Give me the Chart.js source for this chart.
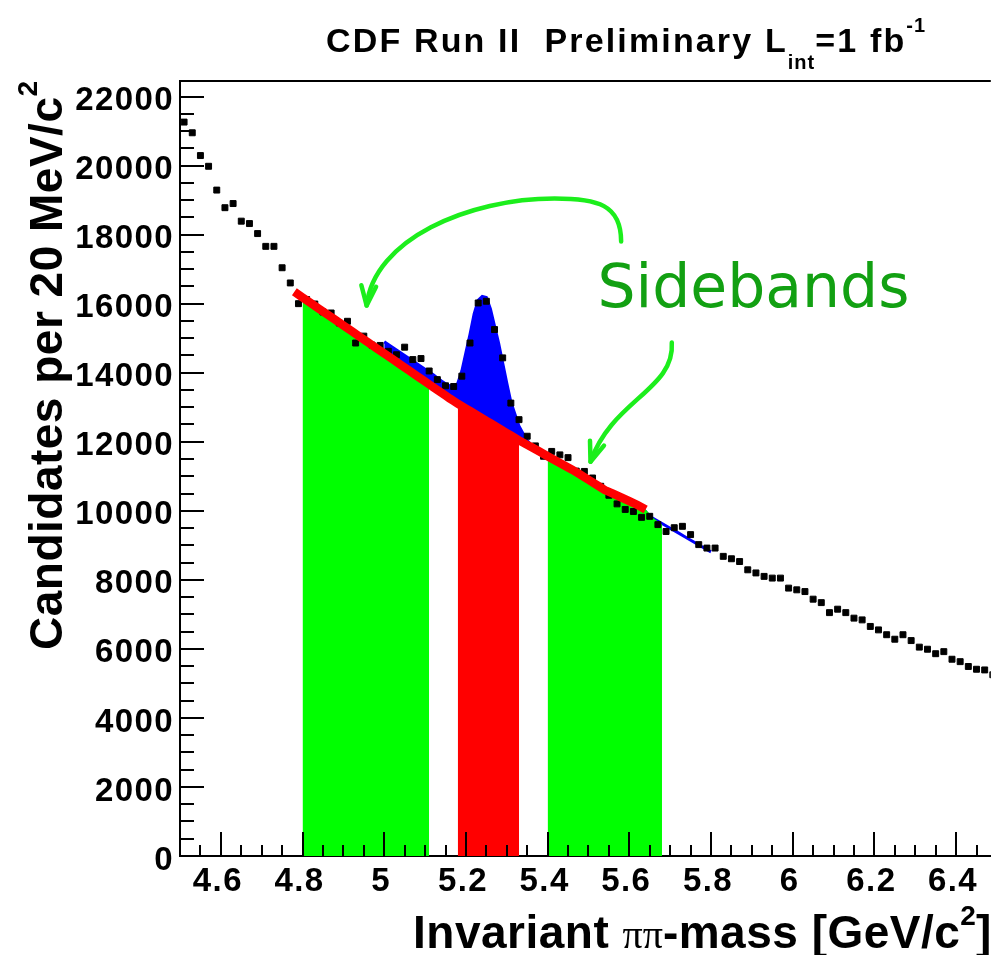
<!DOCTYPE html>
<html>
<head>
<meta charset="utf-8">
<script src="https://cdn.jsdelivr.net/npm/chart.js@4.4.1/dist/chart.umd.min.js"></script>
<style>
  html, body { margin: 0; padding: 0; background: #fff; }
  #wrap { width: 996px; height: 955px; position: relative; }
</style>
</head>
<body>
<div id="wrap"><canvas id="mass-canvas"></canvas></div>
<script>
// ===== CDF B -> h+h- : pipi invariant mass, 20 MeV bins =====

// bin centres [GeV/c^2] and candidates per bin
const binCenters = [
  4.51, 4.53, 4.55, 4.57, 4.59, 4.61, 4.63, 4.65, 4.67, 4.69,
  4.71, 4.73, 4.75, 4.77, 4.79, 4.81, 4.83, 4.85, 4.87, 4.89,
  4.91, 4.93, 4.95, 4.97, 4.99, 5.01, 5.03, 5.05, 5.07, 5.09,
  5.11, 5.13, 5.15, 5.17, 5.19, 5.21, 5.23, 5.25, 5.27, 5.29,
  5.31, 5.33, 5.35, 5.37, 5.39, 5.41, 5.43, 5.45, 5.47, 5.49,
  5.51, 5.53, 5.55, 5.57, 5.59, 5.61, 5.63, 5.65, 5.67, 5.69,
  5.71, 5.73, 5.75, 5.77, 5.79, 5.81, 5.83, 5.85, 5.87, 5.89,
  5.91, 5.93, 5.95, 5.97, 5.99, 6.01, 6.03, 6.05, 6.07, 6.09,
  6.11, 6.13, 6.15, 6.17, 6.19, 6.21, 6.23, 6.25, 6.27, 6.29,
  6.31, 6.33, 6.35, 6.37, 6.39, 6.41, 6.43, 6.45, 6.47, 6.49
];
const counts = [
  21260, 20950, 20290, 19980, 19290, 18780, 18900, 18390, 18320, 18030,
  17660, 17660, 17040, 16600, 16000, 16120, 15990, 15760, 15730, 15440,
  15490, 14860, 15060, 14800, 14790, 14620, 14520, 14740, 14380, 14410,
  14050, 13800, 13620, 13600, 13900, 14860, 16020, 16070, 15250, 14430,
  13120, 12640, 12160, 11880, 11580, 11720, 11620, 11540, 11150, 11140,
  10950, 10710, 10450, 10200, 10040, 9980, 9810, 9840, 9600, 9400,
  9510, 9550, 9310, 9020, 8920, 8920, 8680, 8610, 8530, 8290,
  8200, 8100, 8050, 8050, 7760, 7710, 7660, 7440, 7340, 7050,
  7150, 7050, 6890, 6840, 6650, 6550, 6410, 6280, 6410, 6240,
  6050, 5990, 5860, 5920, 5700, 5630, 5490, 5410, 5390, 5250
];

// fit curves, sampled at these masses
const fitX = [
  4.78, 4.80, 4.82, 4.84, 4.86, 4.88, 4.90, 4.92, 4.94, 4.96, 4.98, 5.00, 5.02, 5.04, 5.06, 5.08,
  5.10, 5.11, 5.12, 5.13, 5.14, 5.15, 5.16, 5.17, 5.18, 5.19, 5.20, 5.21, 5.22, 5.23, 5.24,
  5.25, 5.26, 5.27, 5.28, 5.29, 5.30, 5.31, 5.32, 5.33, 5.34, 5.35, 5.36,
  5.38, 5.40, 5.42, 5.44, 5.46, 5.48, 5.50, 5.52, 5.54, 5.56, 5.58, 5.60,
  5.62, 5.64, 5.66, 5.68, 5.70, 5.72, 5.74, 5.76, 5.78, 5.80
];
// background part of the fit
const bkgFit = [
  16343, 16181, 16018, 15856, 15693, 15531, 15369, 15206, 15044, 14881, 14719, 14556, 14394, 14231, 14069, 13906,
  13744, 13662, 13581, 13500, 13419, 13338, 13256, 13180, 13100, 13030, 12960, 12890, 12820, 12750, 12680,
  12605, 12535, 12465, 12395, 12320, 12250, 12180, 12110, 12040, 11975, 11910, 11845,
  11715, 11580, 11450, 11320, 11190, 11050, 10900, 10750, 10600, 10500, 10390, 10280,
  10170, 10040, 9780, 9600, 9495, 9360, 9220, 9080, 8945, 8810
];
// full fit (signal + background), fitted from 5.00 on
const fitStart = 5.00;
const totalFit = [
  14900, 14740, 14580, 14420, 14260,
  14100, 14020, 13940, 13850, 13760, 13680, 13620, 13600, 13690, 14050, 14580, 15110, 15700, 16100, 16210,
  16180, 15850, 15350, 14860, 14280, 13700, 13150, 12800, 12450, 12230, 12040, 11900,
  11730, 11580, 11450, 11320, 11190, 11050, 10900, 10750, 10600, 10500, 10390, 10280,
  10150, 9900, 9770, 9630, 9495, 9360, 9220, 9080, 8945, 8810
];

// mass windows
const sideLeft  = [4.80, 5.11];
const sigWindow = [5.18, 5.33];
const sideRight = [5.40, 5.68];
const bkgLineRange = [4.78, 5.64];

// axis ranges / ticks
const xRange = [4.5, 6.485];
const yRange = [0, 22450];
const xMinorStep = 0.05, xMajorStep = 0.2;
const yMinorStep = 500,  yMajorStep = 2000;

// annotation (data units): label + two curved arrows (cubic bezier pieces)
const noteText = 'Sidebands';
const notePos = [5.522, 15890];
const arrowUpper = [[5.580, 17800], [5.580, 18873], [5.522, 19046], [5.417, 19046],
                    [5.206, 19046], [4.974, 17858], [4.957, 15945]];
const arrowLower = [[5.704, 14872], [5.712, 13509], [5.558, 13219], [5.505, 11422]];

const GREEN = '#00ff00', RED = '#ff0000', BLUE = '#0000ff';
const ARROW_GREEN = '#1cee1c', TEXT_GREEN = '#12a012';
const FONT = '"Liberation Sans", Arial, sans-serif';

function _pts(xs, ys) { return xs.map((x, i) => ({ x, y: ys[i] })); }
function _within(r) { return p => p.x >= r[0] - 1e-9 && p.x <= r[1] + 1e-9; }
function _isMult(v, step) { const q = v / step; return Math.abs(q - Math.round(q)) < 1e-6; }

const bkgPts = _pts(fitX, bkgFit);
const totX = fitX.filter(x => x >= fitStart - 1e-9);

// ROOT style ticks inside the frame + top frame line
const frameTicks = {
  id: 'frameTicks',
  afterDatasetsDraw(chart) {
    const { ctx, chartArea: a, scales: { x, y } } = chart;
    ctx.save();
    ctx.strokeStyle = '#000';
    ctx.lineWidth = 2;
    ctx.beginPath();
    x.ticks.forEach(t => {
      if (t.value < x.min - 1e-9 || t.value > x.max + 1e-9 || !_isMult(t.value, xMinorStep)) return;
      const px = Math.round(x.getPixelForValue(t.value));
      const len = _isMult(t.value, xMajorStep) ? 24 : 11;
      ctx.moveTo(px, a.bottom); ctx.lineTo(px, a.bottom - len);
    });
    y.ticks.forEach(t => {
      if (t.value < y.min || t.value > y.max || !_isMult(t.value, yMinorStep)) return;
      const py = Math.round(y.getPixelForValue(t.value));
      const len = _isMult(t.value, yMajorStep) ? 24 : 14;
      ctx.moveTo(a.left, py); ctx.lineTo(a.left + len, py);
    });
    ctx.moveTo(a.left, a.top); ctx.lineTo(a.right, a.top);
    ctx.stroke();
    ctx.restore();
  }
};

// wider tick lettering, like the ROOT bitmap fonts
const tickSpacing = {
  id: 'tickSpacing',
  beforeDraw(chart) { chart.ctx.letterSpacing = '1.4px'; },
  afterDraw(chart) { chart.ctx.letterSpacing = '0px'; }
};

function drawRich(ctx, segs, x0, y0, angle) {
  ctx.save();
  ctx.translate(x0, y0);
  ctx.rotate(angle || 0);
  ctx.textAlign = 'left';
  ctx.textBaseline = 'alphabetic';
  let cx = 0;
  segs.forEach(s => {
    ctx.font = s.font;
    ctx.letterSpacing = (s.ls || 0) + 'px';
    ctx.fillStyle = s.color || '#000';
    ctx.fillText(s.text, cx, s.dy || 0);
    cx += ctx.measureText(s.text).width;
  });
  ctx.restore();
}

function drawArrow(ctx, x, y, pts) {
  const P = pts.map(p => [x.getPixelForValue(p[0]), y.getPixelForValue(p[1])]);
  ctx.beginPath();
  ctx.moveTo(P[0][0], P[0][1]);
  for (let i = 1; i + 2 < P.length; i += 3) {
    ctx.bezierCurveTo(P[i][0], P[i][1], P[i + 1][0], P[i + 1][1], P[i + 2][0], P[i + 2][1]);
  }
  ctx.stroke();
  const tip = P[P.length - 1], prev = P[P.length - 2];
  const ang = Math.atan2(tip[1] - prev[1], tip[0] - prev[0]);
  const L = 21, phi = 0.36;
  ctx.beginPath();
  ctx.moveTo(tip[0] - L * Math.cos(ang - phi), tip[1] - L * Math.sin(ang - phi));
  ctx.lineTo(tip[0], tip[1]);
  ctx.lineTo(tip[0] - L * Math.cos(ang + phi), tip[1] - L * Math.sin(ang + phi));
  ctx.stroke();
}

const annotations = {
  id: 'annotations',
  afterDraw(chart) {
    const { ctx, scales: { x, y } } = chart;
    ctx.save();
    ctx.strokeStyle = ARROW_GREEN;
    ctx.lineWidth = 4.5;
    ctx.lineCap = 'round';
    ctx.lineJoin = 'round';
    drawArrow(ctx, x, y, arrowUpper);
    drawArrow(ctx, x, y, arrowLower);
    ctx.letterSpacing = '0px';
    ctx.font = '60px "DejaVu Sans", sans-serif';
    ctx.fillStyle = TEXT_GREEN;
    ctx.textBaseline = 'alphabetic';
    ctx.fillText(noteText, x.getPixelForValue(notePos[0]), y.getPixelForValue(notePos[1]));
    ctx.restore();

    const B = s => 'bold ' + s + 'px ' + FONT;
    // title
    drawRich(ctx, [
      { text: 'CDF Run II  Preliminary L', font: B(34), ls: 2.15 },
      { text: 'int', font: B(20), ls: 1, dy: 17 },
      { text: '=1 fb', font: B(34), ls: 2.15 },
      { text: '-1', font: B(20), ls: 1, dy: -20 }
    ], 326, 52, 0);
    // x title
    drawRich(ctx, [
      { text: 'Invariant ', font: B(46), ls: 0.5 },
      { text: '\u03c0\u03c0', font: '40px "Liberation Serif", serif' },
      { text: '-mass [GeV/c', font: B(46), ls: 0.5 },
      { text: '2', font: B(28), dy: -23 },
      { text: ']', font: B(46) }
    ], 413, 948, 0);
    // y title
    drawRich(ctx, [
      { text: 'Candidates per 20 MeV/c', font: B(46), ls: 0.5 },
      { text: '2', font: B(28), dy: -25 }
    ], 62, 650, -Math.PI / 2);
  }
};

const tickFont = { family: FONT, weight: 'bold', size: 33 };

new Chart(document.getElementById('mass-canvas'), {
  type: 'line',
  data: {
    datasets: [
      { label: 'background fit', data: bkgPts.filter(_within(bkgLineRange)),
        borderColor: RED, borderWidth: 8.5, pointRadius: 0, fill: false },
      { label: 'data', data: _pts(binCenters, counts), showLine: false,
        pointStyle: 'rect', pointRadius: 4.2, pointBackgroundColor: '#000',
        pointBorderColor: '#000', pointBorderWidth: 1 },
      { label: 'sideband low', data: bkgPts.filter(_within(sideLeft)),
        borderColor: 'transparent', borderWidth: 0, pointRadius: 0,
        backgroundColor: GREEN, fill: 'origin' },
      { label: 'signal window', data: bkgPts.filter(_within(sigWindow)),
        borderColor: 'transparent', borderWidth: 0, pointRadius: 0,
        backgroundColor: RED, fill: 'origin' },
      { label: 'sideband high', data: bkgPts.filter(_within(sideRight)),
        borderColor: 'transparent', borderWidth: 0, pointRadius: 0,
        backgroundColor: GREEN, fill: 'origin' },
      { label: 'total fit', data: _pts(totX, totalFit),
        borderColor: BLUE, borderWidth: 3, pointRadius: 0,
        backgroundColor: BLUE, fill: 6 },
      { label: 'bkg under fit', data: bkgPts.filter(p => p.x >= fitStart - 1e-9),
        borderColor: 'transparent', borderWidth: 0, pointRadius: 0, fill: false }
    ]
  },
  options: {
    responsive: true,
    maintainAspectRatio: false,
    animation: false,
    events: [],
    layout: { padding: { top: 81, right: 0, bottom: 0, left: 0 } },
    plugins: { legend: { display: false }, tooltip: { enabled: false }, title: { display: false } },
    scales: {
      x: {
        type: 'linear', min: xRange[0], max: xRange[1],
        grid: { display: false, drawTicks: false },
        border: { display: true, color: '#000', width: 2 },
        ticks: {
          stepSize: xMinorStep, autoSkip: false, maxRotation: 0, includeBounds: false,
          padding: 6, labelOffset: -3, color: '#000', font: tickFont,
          callback: v => _isMult(v, xMajorStep) ? String(Math.round(v * 10) / 10) : ''
        },
        afterFit: s => { s.height = 99; }
      },
      y: {
        // only min is fixed: with min, max and stepSize all set Chart.js
        // would respace the ticks evenly over the range
        type: 'linear', min: yRange[0], suggestedMax: yRange[1], bounds: 'data',
        grid: { display: false, drawTicks: false },
        border: { display: true, color: '#000', width: 2 },
        ticks: {
          stepSize: yMinorStep, autoSkip: false, includeBounds: false,
          padding: 6, labelOffset: 4.5, color: '#000', font: tickFont,
          callback: v => _isMult(v, yMajorStep) ? String(v) : ''
        },
        afterFit: s => { s.width = 180; }
      }
    }
  },
  plugins: [tickSpacing, frameTicks, annotations]
});
</script>
</body>
</html>
